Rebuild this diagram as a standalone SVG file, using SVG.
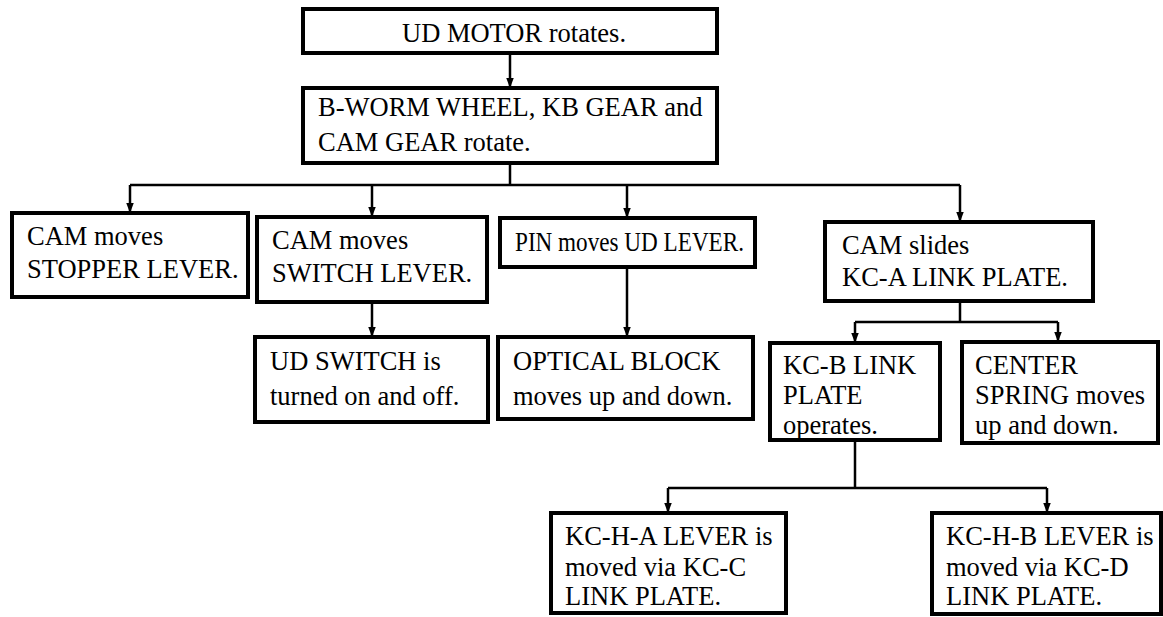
<svg xmlns="http://www.w3.org/2000/svg" width="1163" height="617" viewBox="0 0 1163 617">
<style>
.box{fill:#fff;stroke:#000;stroke-width:4}
.t{font-family:"Liberation Serif","Times New Roman",serif;font-size:26.5px;fill:#000}
.c{fill:none;stroke:#000;stroke-width:2.5}
.a{marker-end:url(#ah)}
</style>
<defs>
<marker id="ah" markerUnits="userSpaceOnUse" markerWidth="10" markerHeight="13" refX="12" refY="4.5" orient="auto" viewBox="0 0 12 9">
<path d="M0,0 L12,4.5 L0,9 z" fill="#000"/>
</marker>
</defs>
<rect width="1163" height="617" fill="#fff"/>
<g id="connectors">
<path class="c a" d="M510,53 V88"/>
<path class="c" d="M510,163 V185 M130,185 H960"/>
<path class="c a" d="M130,185 V213"/>
<path class="c a" d="M372,185 V217"/>
<path class="c a" d="M627,185 V218"/>
<path class="c a" d="M960,185 V222"/>
<path class="c a" d="M372,302 V337"/>
<path class="c a" d="M627,267 V337"/>
<path class="c" d="M960,301 V322 M855,322 H1058"/>
<path class="c a" d="M855,322 V343"/>
<path class="c a" d="M1058,322 V342"/>
<path class="c" d="M855,440 V488 M668,488 H1047"/>
<path class="c a" d="M668,488 V513"/>
<path class="c a" d="M1047,488 V513"/>
</g>
<g id="n1"><rect class="box" x="303" y="9" width="414" height="44"/><text class="t" x="402" y="42">UD MOTOR rotates.</text></g>
<g id="n2"><rect class="box" x="303" y="88" width="414" height="75"/><text class="t" x="318" y="116">B-WORM WHEEL, KB GEAR and</text><text class="t" x="318" y="151">CAM GEAR rotate.</text></g>
<g id="n3"><rect class="box" x="12" y="213" width="236" height="84"/><text class="t" x="27" y="245">CAM moves</text><text class="t" x="27" y="278">STOPPER LEVER.</text></g>
<g id="n4"><rect class="box" x="257" y="217" width="230" height="85"/><text class="t" x="272" y="249">CAM moves</text><text class="t" x="272" y="282">SWITCH LEVER.</text></g>
<g id="n5"><rect class="box" x="500" y="218" width="255" height="49"/><text class="t" x="515" y="251" textLength="229" lengthAdjust="spacingAndGlyphs">PIN moves UD LEVER.</text></g>
<g id="n6"><rect class="box" x="825" y="222" width="268" height="79"/><text class="t" x="842" y="254">CAM slides</text><text class="t" x="842" y="286">KC-A LINK PLATE.</text></g>
<g id="n7"><rect class="box" x="255" y="337" width="233" height="85"/><text class="t" x="270" y="370">UD SWITCH is</text><text class="t" x="270" y="405">turned on and off.</text></g>
<g id="n8"><rect class="box" x="498" y="337" width="255" height="82"/><text class="t" x="513" y="370">OPTICAL BLOCK</text><text class="t" x="513" y="405">moves up and down.</text></g>
<g id="n9"><rect class="box" x="770" y="343" width="170" height="97"/><text class="t" x="783" y="374">KC-B LINK</text><text class="t" x="783" y="404">PLATE</text><text class="t" x="783" y="434">operates.</text></g>
<g id="n10"><rect class="box" x="962" y="342" width="196" height="101"/><text class="t" x="975" y="374">CENTER</text><text class="t" x="975" y="404">SPRING moves</text><text class="t" x="975" y="434">up and down.</text></g>
<g id="n11"><rect class="box" x="551" y="513" width="235" height="100"/><text class="t" x="565" y="545">KC-H-A LEVER is</text><text class="t" x="565" y="576">moved via KC-C</text><text class="t" x="565" y="605">LINK PLATE.</text></g>
<g id="n12"><rect class="box" x="932" y="513" width="229" height="101"/><text class="t" x="946" y="545">KC-H-B LEVER is</text><text class="t" x="946" y="576">moved via KC-D</text><text class="t" x="946" y="605">LINK PLATE.</text></g>
</svg>
